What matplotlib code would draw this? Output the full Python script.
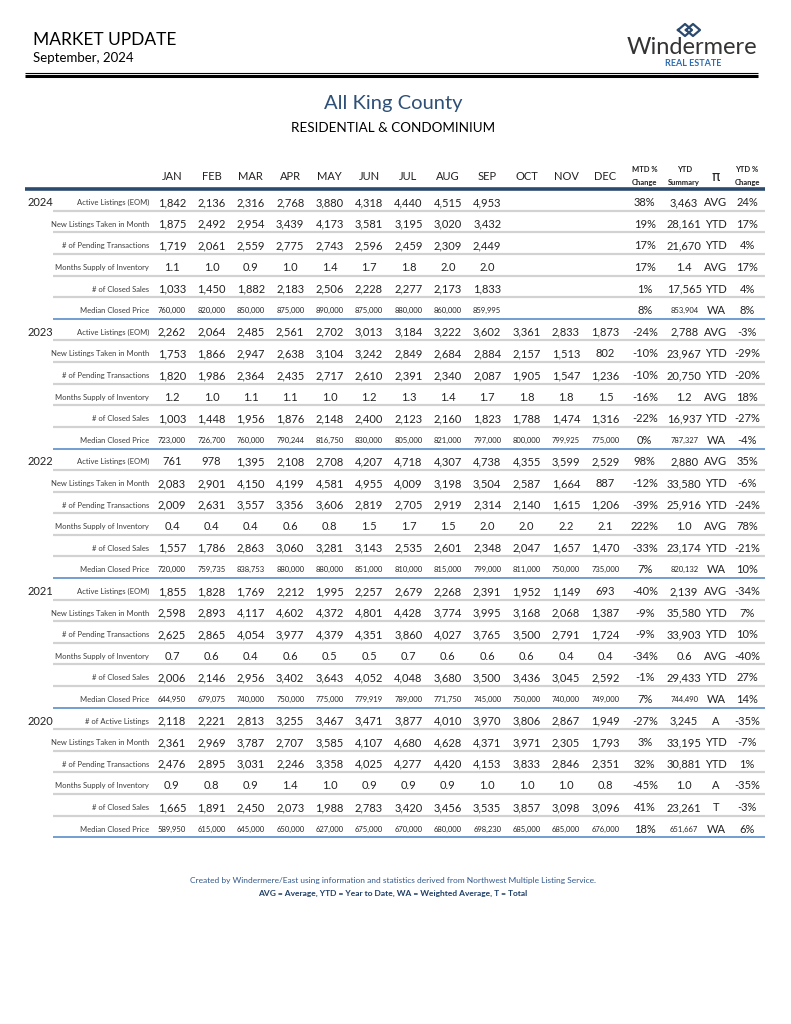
import numpy as np
import matplotlib
matplotlib.use("Agg")
import matplotlib.pyplot as plt

plt.rcParams["font.family"] = ["Lato", "DejaVu Sans"]

MONTHS = ["JAN", "FEB", "MAR", "APR", "MAY", "JUN",
          "JUL", "AUG", "SEP", "OCT", "NOV", "DEC"]
YEARS = ["2024", "2023", "2022", "2021", "2020"]
METRICS = ["Active Listings (EOM)", "New Listings Taken in Month",
           "# of Pending Transactions", "Months Supply of Inventory",
           "# of Closed Sales", "Median Closed Price"]
METRICS_2020 = ["# of Active Listings"] + METRICS[1:]

monthly_2024 = [
    [1842, 2136, 2316, 2768, 3880, 4318, 4440, 4515, 4953],
    [1875, 2492, 2954, 3439, 4173, 3581, 3195, 3020, 3432],
    [1719, 2061, 2559, 2775, 2743, 2596, 2459, 2309, 2449],
    [1.1, 1.0, 0.9, 1.0, 1.4, 1.7, 1.8, 2.0, 2.0],
    [1033, 1450, 1882, 2183, 2506, 2228, 2277, 2173, 1833],
    [760000, 820000, 850000, 875000, 890000, 875000, 880000, 860000, 859995],
]
mtd_2024 = [38, 19, 17, 17, 1, 8]
ytd_2024 = [3463, 28161, 21670, 1.4, 17565, 853904]
basis_2024 = ["AVG", "YTD", "YTD", "AVG", "YTD", "WA"]
ytdpct_2024 = [24, 17, 4, 17, 4, 8]

monthly_2023 = [
    [2262, 2064, 2485, 2561, 2702, 3013, 3184, 3222, 3602, 3361, 2833, 1873],
    [1753, 1866, 2947, 2638, 3104, 3242, 2849, 2684, 2884, 2157, 1513, 802],
    [1820, 1986, 2364, 2435, 2717, 2610, 2391, 2340, 2087, 1905, 1547, 1236],
    [1.2, 1.0, 1.1, 1.1, 1.0, 1.2, 1.3, 1.4, 1.7, 1.8, 1.8, 1.5],
    [1003, 1448, 1956, 1876, 2148, 2400, 2123, 2160, 1823, 1788, 1474, 1316],
    [723000, 726700, 760000, 790244, 816750, 830000, 805000, 821000, 797000,
     800000, 799925, 775000],
]
mtd_2023 = [-24, -10, -10, -16, -22, 0]
ytd_2023 = [2788, 23967, 20750, 1.2, 16937, 787327]
basis_2023 = ["AVG", "YTD", "YTD", "AVG", "YTD", "WA"]
ytdpct_2023 = [-3, -29, -20, 18, -27, -4]

monthly_2022 = [
    [761, 978, 1395, 2108, 2708, 4207, 4718, 4307, 4738, 4355, 3599, 2529],
    [2083, 2901, 4150, 4199, 4581, 4955, 4009, 3198, 3504, 2587, 1664, 887],
    [2009, 2631, 3557, 3356, 3606, 2819, 2705, 2919, 2314, 2140, 1615, 1206],
    [0.4, 0.4, 0.4, 0.6, 0.8, 1.5, 1.7, 1.5, 2.0, 2.0, 2.2, 2.1],
    [1557, 1786, 2863, 3060, 3281, 3143, 2535, 2601, 2348, 2047, 1657, 1470],
    [720000, 759735, 838753, 880000, 880000, 851000, 810000, 815000, 799000,
     811000, 750000, 735000],
]
mtd_2022 = [98, -12, -39, 222, -33, 7]
ytd_2022 = [2880, 33580, 25916, 1.0, 23174, 820132]
basis_2022 = ["AVG", "YTD", "YTD", "AVG", "YTD", "WA"]
ytdpct_2022 = [35, -6, -24, 78, -21, 10]

monthly_2021 = [
    [1855, 1828, 1769, 2212, 1995, 2257, 2679, 2268, 2391, 1952, 1149, 693],
    [2598, 2893, 4117, 4602, 4372, 4801, 4428, 3774, 3995, 3168, 2068, 1387],
    [2625, 2865, 4054, 3977, 4379, 4351, 3860, 4027, 3765, 3500, 2791, 1724],
    [0.7, 0.6, 0.4, 0.6, 0.5, 0.5, 0.7, 0.6, 0.6, 0.6, 0.4, 0.4],
    [2006, 2146, 2956, 3402, 3643, 4052, 4048, 3680, 3500, 3436, 3045, 2592],
    [644950, 679075, 740000, 750000, 775000, 779919, 789000, 771750, 745000,
     750000, 740000, 749000],
]
mtd_2021 = [-40, -9, -9, -34, -1, 7]
ytd_2021 = [2139, 35580, 33903, 0.6, 29433, 744490]
basis_2021 = ["AVG", "YTD", "YTD", "AVG", "YTD", "WA"]
ytdpct_2021 = [-34, 7, 10, -40, 27, 14]

monthly_2020 = [
    [2118, 2221, 2813, 3255, 3467, 3471, 3877, 4010, 3970, 3806, 2867, 1949],
    [2361, 2969, 3787, 2707, 3585, 4107, 4680, 4628, 4371, 3971, 2305, 1793],
    [2476, 2895, 3031, 2246, 3358, 4025, 4277, 4420, 4153, 3833, 2846, 2351],
    [0.9, 0.8, 0.9, 1.4, 1.0, 0.9, 0.9, 0.9, 1.0, 1.0, 1.0, 0.8],
    [1665, 1891, 2450, 2073, 1988, 2783, 3420, 3456, 3535, 3857, 3098, 3096],
    [589950, 615000, 645000, 650000, 627000, 675000, 670000, 680000, 698230,
     685000, 685000, 676000],
]
mtd_2020 = [-27, 3, 32, -45, 41, 18]
ytd_2020 = [3245, 33195, 30881, 1.0, 23261, 651667]
basis_2020 = ["A", "YTD", "YTD", "A", "T", "WA"]
ytdpct_2020 = [-35, -7, 1, -35, -3, 6]

blocks = [
    (monthly_2024, mtd_2024, ytd_2024, basis_2024, ytdpct_2024, METRICS),
    (monthly_2023, mtd_2023, ytd_2023, basis_2023, ytdpct_2023, METRICS),
    (monthly_2022, mtd_2022, ytd_2022, basis_2022, ytdpct_2022, METRICS),
    (monthly_2021, mtd_2021, ytd_2021, basis_2021, ytdpct_2021, METRICS),
    (monthly_2020, mtd_2020, ytd_2020, basis_2020, ytdpct_2020, METRICS_2020),
]

NUM = "#222222"
LAB = "#3c3c3c"
NAVY = "#2b4a6e"

fig = plt.figure(figsize=(7.91, 10.24), dpi=100)
ax = fig.add_axes([0, 0, 1, 1])
ax.set_xlim(0, 791)
ax.set_ylim(1024, 0)
ax.axis("off")

# page header
ax.text(33, 40, "MARKET UPDATE", fontsize=12.5, color="black", va="center")
ax.text(33, 58, "September, 2024", fontsize=9.5, color="black", va="center")
ax.text(692, 47, "Windermere", fontsize=17, color="#333333", va="center",
        ha="center")
ax.text(693, 64, "REAL ESTATE", fontsize=6.5, color="#2d6bb0", va="center",
        ha="center", fontweight="bold")
ax.plot([678, 685, 692, 685, 678], [30, 24, 30, 36, 30], color=NAVY, lw=1.6)
ax.plot([686, 693, 700, 693, 686], [30, 24, 30, 36, 30], color=NAVY, lw=1.6)
ax.hlines(72.5, 25, 758, color="black", lw=0.8)
ax.hlines(75.5, 25, 758, color="black", lw=2.2)

ax.text(393, 104, "All King County", fontsize=14.5, color="#2e5077",
        ha="center", va="center")
ax.text(393, 128, "RESIDENTIAL & CONDOMINIUM", fontsize=9.7, color="black",
        ha="center", va="center")

# columns
X0, DX = 172, 39.4
col_x = [X0 + i * DX for i in range(len(MONTHS))]
x_mtd = X0 + 12 * DX
x_ytd = X0 + 13 * DX
x_pi = 716
x_pct = 747

for x, m in zip(col_x, MONTHS):
    ax.text(x, 176, m, fontsize=8, color=NUM, ha="center", va="center")
for x, top, bot in [(x_mtd, "MTD %", "Change"), (x_ytd, "YTD", "Summary"),
                    (x_pct, "YTD %", "Change")]:
    ax.text(x, 170, top, fontsize=5.5, color=NUM, ha="center", va="center",
            fontweight="bold")
    ax.text(x, 182.5, bot, fontsize=5.5, color=NUM, ha="center", va="center",
            fontweight="bold")
ax.text(x_pi, 177, "π", fontsize=10, color=NUM, ha="center", va="center",
        family=["DejaVu Sans"])
ax.hlines(189, 25, 765, color=NAVY, lw=2.6)

Y0, DY = 202.7, 21.6


def fmt(v, j):
    if j == 3:
        return f"{v:.1f}"
    return f"{v:,}"


for i, (monthly, mtd, ytd, basis, pct, labels) in enumerate(blocks):
    for j in range(6):
        y = Y0 + (i * 6 + j) * DY
        if j == 0:
            ax.text(28, y, YEARS[i], fontsize=8, color=NUM, va="center")
        ax.text(149, y, labels[j], fontsize=5.5, color=LAB, ha="right",
                va="center")
        small = j == 5
        fs = 5.5 if small else 8
        for x, v in zip(col_x, monthly[j]):
            ax.text(x, y, fmt(v, j), fontsize=fs, color=NUM, ha="center",
                    va="center")
        ax.text(x_mtd, y, f"{mtd[j]}%", fontsize=8, color=NUM,
                ha="center", va="center")
        ax.text(x_ytd, y, fmt(ytd[j], j), fontsize=fs, color=NUM,
                ha="center", va="center")
        ax.text(x_pi, y, basis[j], fontsize=8, color=NUM, ha="center",
                va="center")
        ax.text(x_pct, y, f"{pct[j]}%", fontsize=8, color=NUM,
                ha="center", va="center")
        if j < 5:
            ax.hlines(y + 8, 53, 765, color="#d2d2d2", lw=1.6)
        else:
            ax.hlines(y + 8.3, 53, 765, color="#5b8ec8", lw=1.2)

ax.text(393, 881, "Created by Windermere/East using information and statistics "
        "derived from Northwest Multiple Listing Service.", fontsize=6,
        color="#34598a", ha="center", va="center")
ax.text(393, 893, "AVG = Average, YTD = Year to Date, WA = Weighted Average, "
        "T = Total", fontsize=6, color="#1f3f66", ha="center", va="center",
        fontweight="bold")

fig.savefig("out.png", dpi=100, facecolor="white")
